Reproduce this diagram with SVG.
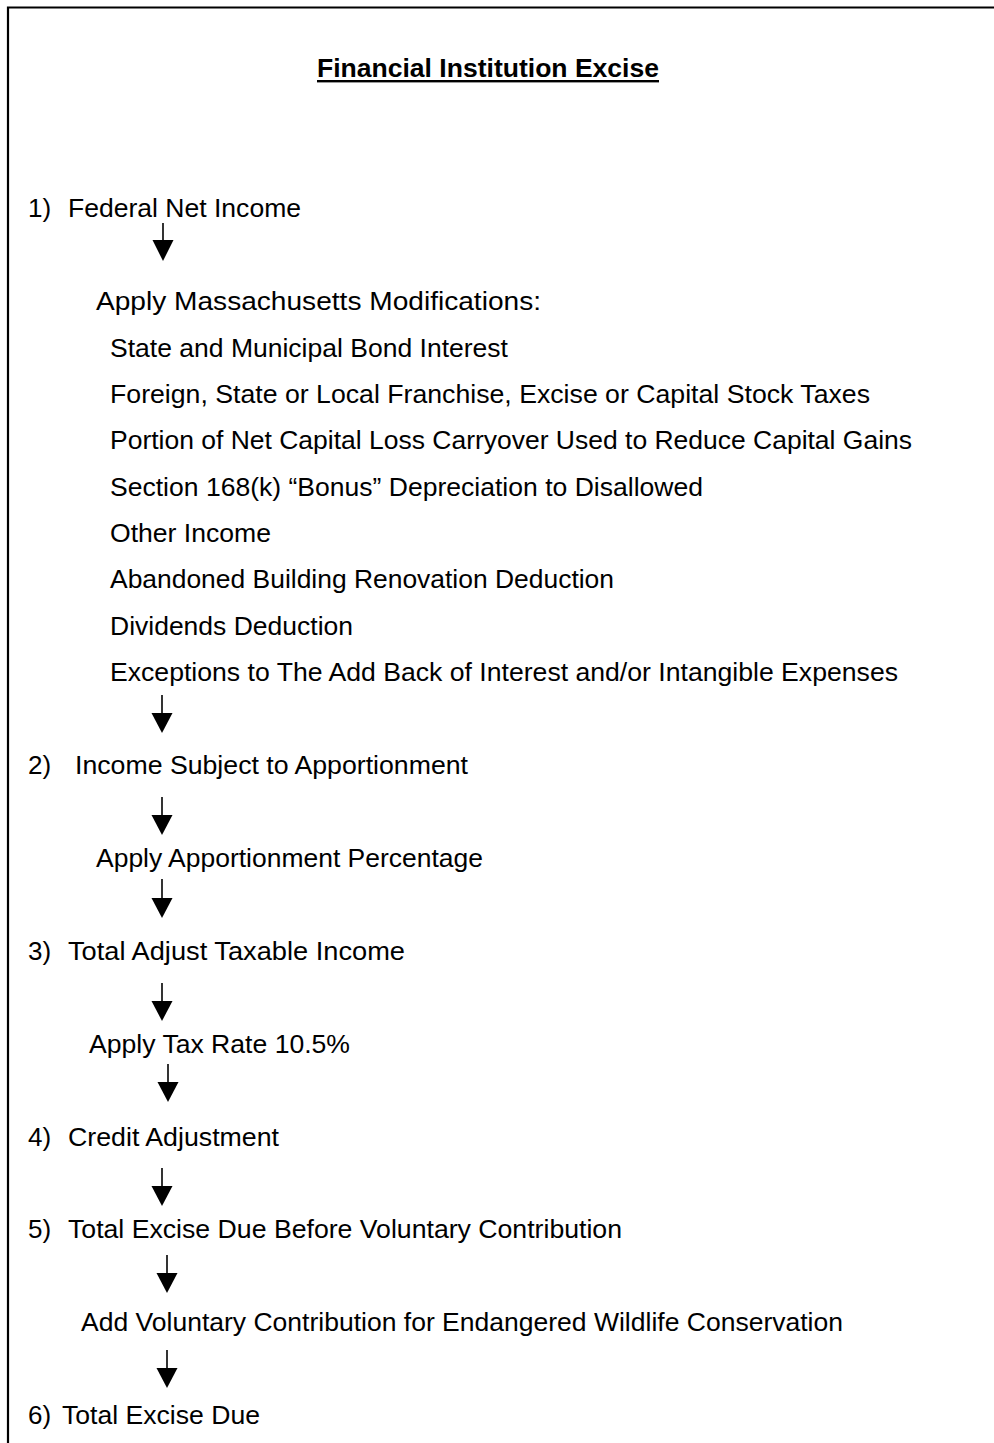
<svg xmlns="http://www.w3.org/2000/svg" width="994" height="1443" viewBox="0 0 994 1443">
<style>
.t{font-family:"Liberation Sans",Arial,sans-serif;font-size:26px;fill:#000}
.h{font-family:"Liberation Sans",Arial,sans-serif;font-size:26.5px;font-weight:bold;fill:#000}
.ln{stroke:#000;stroke-width:1.6;fill:none}
.hd{fill:#000}
</style>
<rect width="994" height="1443" fill="#fff"/>
<g id="frame"><path d="M8,1443 V7.5 H994" stroke="#000" stroke-width="2.2" fill="none"/></g>
<g id="title"><text class="h" x="317" y="77" textLength="342" lengthAdjust="spacingAndGlyphs">Financial Institution Excise</text><rect x="317" y="80" width="342" height="2.4" fill="#000"/></g>
<g id="n1"><text class="t" x="28" y="217">1)</text><text class="t" x="68" y="217" textLength="233" lengthAdjust="spacingAndGlyphs">Federal Net Income</text></g>
<g id="mods">
<text class="t" x="96" y="310" textLength="445" lengthAdjust="spacingAndGlyphs">Apply Massachusetts Modifications:</text>
<text class="t" x="110" y="357" textLength="398" lengthAdjust="spacingAndGlyphs">State and Municipal Bond Interest</text>
<text class="t" x="110" y="403" textLength="760" lengthAdjust="spacingAndGlyphs">Foreign, State or Local Franchise, Excise or Capital Stock Taxes</text>
<text class="t" x="110" y="449" textLength="802" lengthAdjust="spacingAndGlyphs">Portion of Net Capital Loss Carryover Used to Reduce Capital Gains</text>
<text class="t" x="110" y="496" textLength="593" lengthAdjust="spacingAndGlyphs">Section 168(k) “Bonus” Depreciation to Disallowed</text>
<text class="t" x="110" y="542" textLength="161" lengthAdjust="spacingAndGlyphs">Other Income</text>
<text class="t" x="110" y="588" textLength="504" lengthAdjust="spacingAndGlyphs">Abandoned Building Renovation Deduction</text>
<text class="t" x="110" y="635" textLength="243" lengthAdjust="spacingAndGlyphs">Dividends Deduction</text>
<text class="t" x="110" y="681" textLength="788" lengthAdjust="spacingAndGlyphs">Exceptions to The Add Back of Interest and/or Intangible Expenses</text>
</g>
<g id="n2"><text class="t" x="28" y="774">2)</text><text class="t" x="75" y="774" textLength="393" lengthAdjust="spacingAndGlyphs">Income Subject to Apportionment</text></g>
<g id="appt"><text class="t" x="96" y="867" textLength="387" lengthAdjust="spacingAndGlyphs">Apply Apportionment Percentage</text></g>
<g id="n3"><text class="t" x="28" y="960">3)</text><text class="t" x="68" y="960" textLength="337" lengthAdjust="spacingAndGlyphs">Total Adjust Taxable Income</text></g>
<g id="rate"><text class="t" x="89" y="1053" textLength="261" lengthAdjust="spacingAndGlyphs">Apply Tax Rate 10.5%</text></g>
<g id="n4"><text class="t" x="28" y="1146">4)</text><text class="t" x="68" y="1146" textLength="211" lengthAdjust="spacingAndGlyphs">Credit Adjustment</text></g>
<g id="n5"><text class="t" x="28" y="1238">5)</text><text class="t" x="68" y="1238" textLength="554" lengthAdjust="spacingAndGlyphs">Total Excise Due Before Voluntary Contribution</text></g>
<g id="vol"><text class="t" x="81" y="1331" textLength="762" lengthAdjust="spacingAndGlyphs">Add Voluntary Contribution for Endangered Wildlife Conservation</text></g>
<g id="n6"><text class="t" x="28" y="1424">6)</text><text class="t" x="62" y="1424" textLength="198" lengthAdjust="spacingAndGlyphs">Total Excise Due</text></g>
<g id="connectors">
<path class="ln" d="M163,223 V241"/><polygon class="hd" points="152.5,240 173.5,240 163,261"/>
<path class="ln" d="M162,695 V714"/><polygon class="hd" points="151.5,713 172.5,713 162,733"/>
<path class="ln" d="M162,797 V816"/><polygon class="hd" points="151.5,815 172.5,815 162,835"/>
<path class="ln" d="M162,879 V899"/><polygon class="hd" points="151.5,898 172.5,898 162,918"/>
<path class="ln" d="M162,983 V1002"/><polygon class="hd" points="151.5,1001 172.5,1001 162,1021"/>
<path class="ln" d="M168,1064 V1083"/><polygon class="hd" points="157.5,1082 178.5,1082 168,1102"/>
<path class="ln" d="M162,1168 V1187"/><polygon class="hd" points="151.5,1186 172.5,1186 162,1206"/>
<path class="ln" d="M167,1255 V1274"/><polygon class="hd" points="156.5,1273 177.5,1273 167,1293"/>
<path class="ln" d="M167,1350 V1369"/><polygon class="hd" points="156.5,1368 177.5,1368 167,1388"/>
</g>
</svg>
